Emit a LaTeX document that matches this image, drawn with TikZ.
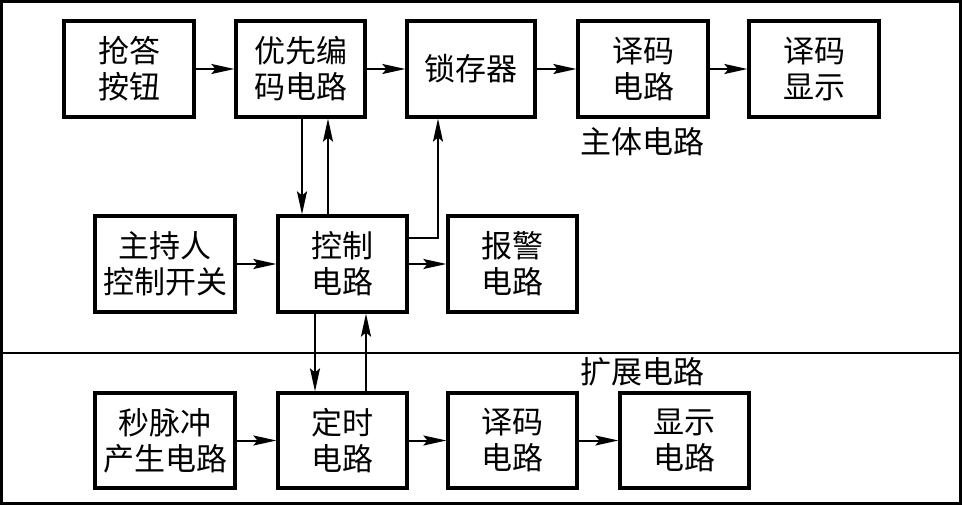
\documentclass[tikz,border=0pt]{standalone}
\usepackage{fontspec}
\newfontfamily\cjk{Noto Sans CJK SC}
\usetikzlibrary{arrows.meta}
\begin{document}
\begin{tikzpicture}[x=1pt,y=-1pt,
  blk/.style={draw, line width=3.2pt, minimum height=96pt, align=center, inner sep=0pt,
    font=\cjk\fontsize{31}{36}\selectfont},
  arr/.style={line width=2pt, -{Stealth[length=23pt,width=10pt,inset=4pt]}},
  lbl/.style={font=\cjk\fontsize{31}{36}\selectfont, inner sep=0pt}]
\useasboundingbox (0,0) rectangle (962,505);
\draw[line width=3.2pt] (1.6,1.6) rectangle (960.4,503.4);
\coordinate (L) at (1.5,353);
\coordinate (R) at (960.5,353);
\draw[line width=2.2pt] (L) -- (R);
% top row
\node[blk, minimum width=130pt] (qd) at (129,69) {抢答\\按钮};
\node[blk, minimum width=129pt] (yx) at (300.5,69) {优先编\\码电路};
\node[blk, minimum width=128pt] (sc) at (471,69) {锁存器};
\node[blk, minimum width=130pt] (ym1) at (643,69) {译码\\电路};
\node[blk, minimum width=130pt] (xs1) at (814,69) {译码\\显示};
% middle row
\node[blk, minimum width=140pt] (zc) at (165,264) {主持人\\控制开关};
\node[blk, minimum width=129pt] (kz) at (342.5,264) {控制\\电路};
\node[blk, minimum width=129pt] (bj) at (512.5,264) {报警\\电路};
% bottom row
\node[blk, minimum width=140pt, minimum height=95pt] (mc) at (165,440.5) {秒脉冲\\产生电路};
\node[blk, minimum width=129pt, minimum height=95pt] (ds) at (342.5,440.5) {定时\\电路};
\node[blk, minimum width=129pt, minimum height=95pt] (ym2) at (512.5,440.5) {译码\\电路};
\node[blk, minimum width=129pt, minimum height=95pt] (xs2) at (684.5,440.5) {显示\\电路};
% labels
\node[lbl] (zt) at (642,142) {主体电路};
\node[lbl] (kzl) at (642,372) {扩展电路};
% arrows top row
\draw[arr] (qd.east) -- (yx.west);
\draw[arr] (yx.east) -- (sc.west);
\draw[arr] (sc.east) -- (ym1.west);
\draw[arr] (ym1.east) -- (xs1.west);
% vertical between yx and kz
\draw[arr] ([xshift=1.5pt]yx.south) -- ([xshift=1.5pt]yx.south |- kz.north);
\draw[arr] ([xshift=27.5pt]yx.south |- kz.north) -- ([xshift=27.5pt]yx.south);
% kz to sc
\draw[arr] ([yshift=26pt]kz.east) -| ([xshift=-33pt]sc.south);
% middle row
\draw[arr] (zc.east) -- (kz.west);
\draw[arr] (kz.east) -- (bj.west);
% kz <-> ds
\draw[arr] ([xshift=-27.5pt]kz.south) -- ([xshift=-27.5pt]kz.south |- ds.north);
\draw[arr] ([xshift=23.5pt]kz.south |- ds.north) -- ([xshift=23.5pt]kz.south);
% bottom row
\draw[arr] (mc.east) -- (ds.west);
\draw[arr] (ds.east) -- (ym2.west);
\draw[arr] (ym2.east) -- (xs2.west);
\end{tikzpicture}
\end{document}
